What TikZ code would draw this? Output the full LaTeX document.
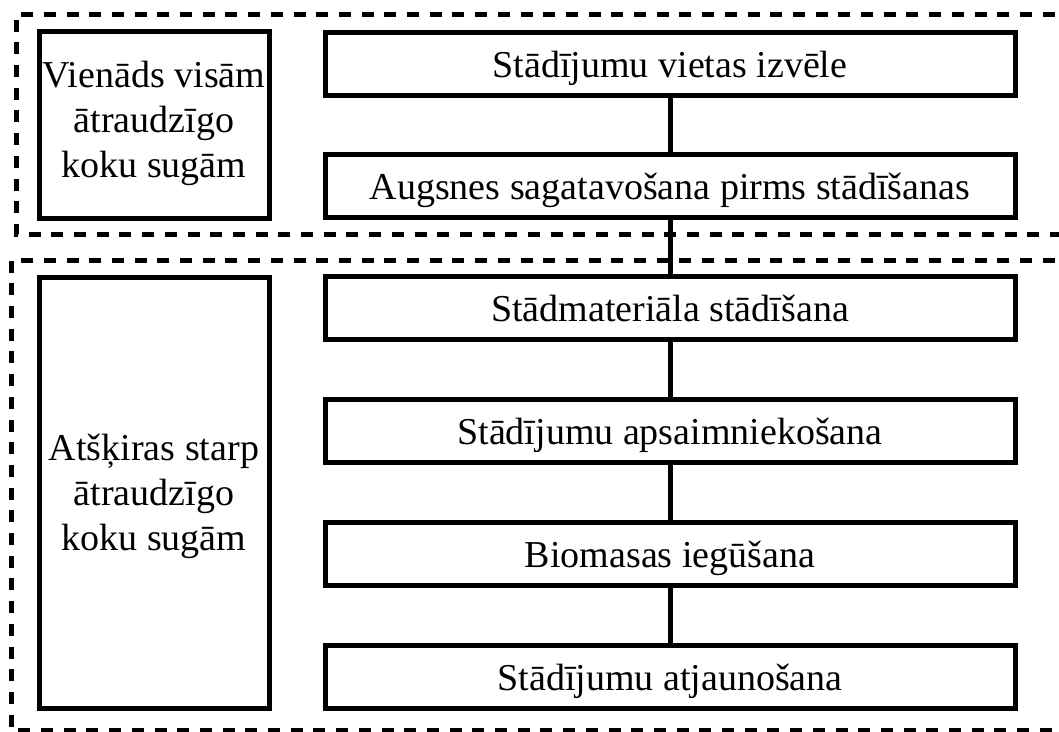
\documentclass[tikz,border=0pt]{standalone}
\usepackage{fontspec}
\setmainfont{Liberation Serif}
\begin{document}
\begin{tikzpicture}[x=1pt,y=-1pt,
  every node/.style={font=\fontsize{38}{45}\selectfont},
  stagebox/.style={draw, line width=5pt, minimum width=690pt, minimum height=63pt,
    inner sep=0pt, text height=30pt, text depth=3pt, align=center},
  sidebox/.style={draw, line width=5pt, minimum width=230pt, inner sep=0pt, align=center},
  groupframe/.style={draw, line width=5pt, dash pattern=on 12pt off 10.7pt},
  link/.style={line width=5pt}]
  \clip (0,0) rectangle (1059,731);
  % group frames
  \draw[groupframe] (1100,14) -- (16,14) -- (16,234) -- (1100,234);
  \draw[groupframe] (1100,260) -- (11,260) -- (11,730) -- (1100,730);
  % left captions
  \node[sidebox, minimum height=187pt, text height=120pt, text depth=15pt] (common) at (154,124.5)
    {Vienāds visām\\ātraudzīgo\\koku sugām};
  \node[sidebox, minimum height=431pt, text height=130pt, text depth=15pt] (diff) at (154,492.5)
    {Atšķiras starp\\ātraudzīgo\\koku sugām};
  % stages
  \node[stagebox] (s1) at (670,63.5) {Stādījumu vietas izvēle};
  \node[stagebox] (s2) at (670,185.5) {Augsnes sagatavošana pirms stādīšanas};
  \node[stagebox] (s3) at (670,308) {Stādmateriāla stādīšana};
  \node[stagebox] (s4) at (670,431) {Stādījumu apsaimniekošana};
  \node[stagebox] (s5) at (670,554) {Biomasas iegūšana};
  \node[stagebox] (s6) at (670,676.5) {Stādījumu atjaunošana};
  % connectors
  \draw[link] (s1) -- (s2);
  \draw[link] (s2) -- (s3);
  \draw[link] (s3) -- (s4);
  \draw[link] (s4) -- (s5);
  \draw[link] (s5) -- (s6);
\end{tikzpicture}
\end{document}
